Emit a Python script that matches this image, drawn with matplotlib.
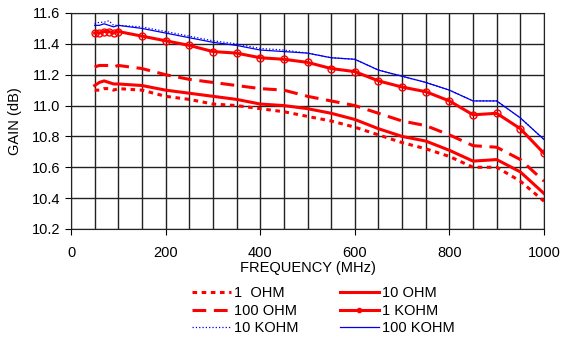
import matplotlib as mpl
mpl.use('Agg')
font = {'family': 'Liberation Sans',
        'size': 10.5}
mpl.rc('font', **font)
from matplotlib import pyplot as plt
from matplotlib.lines import Line2D

# frequency points (MHz), finer steps at the low end
freq = [50, 60, 70, 80, 90, 100, 150, 200, 250, 300, 350, 400, 450, 500,
        550, 600, 650, 700, 750, 800, 850, 900, 950, 1000]

# gain (dB) for each load resistance
gain_1ohm = [11.10, 11.10, 11.11, 11.11, 11.10, 11.11, 11.10, 11.06, 11.04, 11.01, 11.00, 10.98,
             10.96, 10.93, 10.90, 10.86, 10.81, 10.76, 10.72, 10.67, 10.60, 10.60, 10.51, 10.38]
gain_10ohm = [11.13, 11.15, 11.16, 11.15, 11.14, 11.14, 11.13, 11.10, 11.08, 11.06, 11.04, 11.01,
              11.00, 10.98, 10.95, 10.91, 10.85, 10.80, 10.77, 10.71, 10.64, 10.65, 10.57, 10.43]
gain_100ohm = [11.25, 11.26, 11.26, 11.26, 11.25, 11.26, 11.24, 11.20, 11.17, 11.15, 11.13, 11.11,
               11.10, 11.06, 11.03, 11.00, 10.95, 10.90, 10.87, 10.81, 10.74, 10.73, 10.65, 10.51]
gain_1kohm = [11.47, 11.47, 11.48, 11.48, 11.47, 11.48, 11.45, 11.42, 11.39, 11.35, 11.34, 11.31,
              11.30, 11.28, 11.24, 11.22, 11.16, 11.12, 11.09, 11.03, 10.94, 10.95, 10.85, 10.69]
gain_10kohm = [11.53, 11.54, 11.54, 11.55, 11.52, 11.52, 11.51, 11.48, 11.45, 11.42, 11.40, 11.37,
               11.36, 11.34, 11.31, 11.30, 11.23, 11.19, 11.15, 11.10, 11.03, 11.03, 10.92, 10.78]
gain_100kohm = [11.52, 11.52, 11.53, 11.52, 11.51, 11.52, 11.50, 11.47, 11.44, 11.41, 11.39, 11.36,
                11.35, 11.34, 11.31, 11.30, 11.23, 11.19, 11.15, 11.10, 11.03, 11.03, 10.92, 10.78]

red = '#ff0000'
blue = '#0000ee'

fig = plt.figure(figsize=(5.76, 3.44), dpi=100)
ax = fig.add_axes([71/576, 1 - 229/344, (544 - 71)/576, (229 - 13)/344])

ax.plot(freq, gain_1ohm, color=red, lw=2.2, dashes=(1.5, 1.5), label='1  OHM')
ax.plot(freq, gain_100ohm, color=red, lw=2.2, dashes=(4.5, 2.5), label='100 OHM')
ax.plot(freq, gain_10kohm, color=blue, lw=0.9, ls=':', label='10 KOHM')
ax.plot(freq, gain_10ohm, color=red, lw=2.2, label='10 OHM')
ax.plot(freq, gain_1kohm, color=red, lw=2.2, marker='o', ms=5, mfc='none', mew=1.0, label='1 KOHM')
ax.plot(freq, gain_100kohm, color=blue, lw=0.9, label='100 KOHM')

ax.set_xlim(0, 1000)
ax.set_ylim(10.2, 11.6)
ax.set_xticks(range(0, 1001, 200))
ax.set_xticks(range(0, 1001, 50), minor=True)
ax.set_yticks([10.2, 10.4, 10.6, 10.8, 11.0, 11.2, 11.4, 11.6])
ax.set_yticklabels(['10.2', '10.4', '10.6', '10.8', '11.0', '11.2', '11.4', '11.6'])
ax.grid(True, which='both', color='#222222', lw=1.0)
ax.set_axisbelow(True)
ax.tick_params(axis='x', which='minor', length=0)
ax.tick_params(axis='x', which='major', length=4, direction='out', pad=8)
ax.tick_params(axis='y', length=4, direction='out', pad=4)
for side in ['top', 'bottom', 'left', 'right']:
	ax.spines[side].set_color('#222222')

ax.set_xlabel('FREQUENCY (MHz)', labelpad=1)
ax.set_ylabel('GAIN (dB)', labelpad=7)

# legend in two columns below the plot
handles, labels = ax.get_legend_handles_labels()
handles[4] = Line2D([], [], color=red, lw=2.2, marker='o', ms=3, mfc=red, mew=1.0)
fig.legend(handles, labels, ncol=2, loc='upper left', bbox_to_anchor=(192/576, 1 - 286/344),
           frameon=False, handlelength=2.7, handletextpad=0.2, columnspacing=2.8,
           labelspacing=0.25, borderaxespad=0, borderpad=0)

plt.savefig('out.png', dpi=100)
plt.close()
